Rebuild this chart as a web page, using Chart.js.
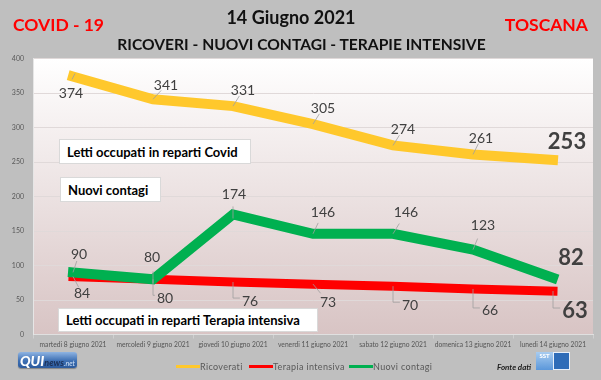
<!DOCTYPE html>
<html>
<head>
<meta charset="utf-8">
<script src="https://cdn.jsdelivr.net/npm/chart.js@4.4.1/dist/chart.umd.min.js"></script>
<style>
  html,body{margin:0;padding:0;background:#bfbfbf;}
  #wrap{position:relative;width:601px;height:380px;overflow:hidden;font-family:Lato,"Noto Sans",sans-serif;}
  canvas{position:absolute;left:0;top:0;}
  .t{position:absolute;white-space:nowrap;font-weight:bold;line-height:1;}
  .box{position:absolute;background:#fff;border:1px solid #d9d9d9;box-sizing:border-box;font-weight:bold;font-size:13px;color:#000;white-space:nowrap;display:flex;align-items:center;padding-left:7px;}
  #legend{position:absolute;left:176px;top:361px;height:10px;display:flex;align-items:center;font-size:9px;letter-spacing:0.35px;color:#595959;white-space:nowrap;}
  #legend .it{display:flex;align-items:center;flex:none;white-space:nowrap;}
  #legend .sw{width:24px;height:3px;flex:none;}
</style>
</head>
<body>
<div id="wrap">
  <canvas id="c" width="601" height="380"></canvas>
  <div class="t" style="left:0;width:582px;text-align:center;top:8px;font-size:18px;color:#111;">14 Giugno 2021</div>
  <div class="t" style="left:0;width:603px;text-align:center;top:37px;font-size:15.6px;color:#111;">RICOVERI - NUOVI CONTAGI - TERAPIE INTENSIVE</div>
  <div class="t" style="left:13px;top:16px;font-size:17.5px;color:#ff0000;">COVID - 19</div>
  <div class="t" style="right:13px;top:16px;font-size:17.5px;color:#ff0000;">TOSCANA</div>
  <div class="box" style="left:59px;top:139px;width:192px;height:25px;">Letti occupati in reparti Covid</div>
  <div class="box" style="left:60px;top:177px;width:101px;height:25px;">Nuovi contagi</div>
  <div class="box" style="left:58px;top:308px;width:260px;height:24px;">Letti occupati in reparti Terapia intensiva</div>
  <div id="legend"></div>
  <div style="position:absolute;left:18px;top:352px;width:59px;height:16px;border-radius:3px;background:linear-gradient(#8fb4e2,#3d6fb3 55%,#2c5a9c);box-shadow:0 1px 1px rgba(0,0,0,0.3);font-style:italic;white-space:nowrap;line-height:16px;">
    <span style="color:#fff;font-weight:900;font-size:14px;margin-left:2px;">QUI</span><span style="color:#1b2f55;font-weight:bold;font-size:9px;">news</span><span style="color:#cfe0f5;font-size:7px;">.net</span>
  </div>
  <div class="t" style="left:497px;top:363px;font-size:8px;font-style:italic;color:#222;">Fonte dati</div>
  <div style="position:absolute;left:536px;top:352px;width:17px;height:18px;background:linear-gradient(#a8ccf0,#5b97da);color:#fff;font-size:6px;font-weight:900;text-align:center;line-height:8px;">SST</div>
  <div style="position:absolute;left:553px;top:352px;width:17px;height:18px;background:#2e6cb8;border:1px solid #e8f0fa;box-sizing:border-box;"></div>
</div>
<script>
// ---- data ----
const categories = ['martedi 8 giugno 2021','mercoledi 9 giugno 2021','giovedi 10 giugno 2021','venerdi 11 giugno 2021','sabato 12 giugno 2021','domenica 13 giugno 2021','lunedi 14 giugno 2021'];
const ricoverati = [374, 341, 331, 305, 274, 261, 253];
const terapiaIntensiva = [84, 80, 76, 73, 70, 66, 63];
const nuoviContagi = [90, 80, 174, 146, 146, 123, 82];
const seriesNames = ['Ricoverati', 'Terapia intensiva', 'Nuovi contagi'];
const yMin = 0, yMax = 400, yStep = 50;

// ---- styles ----
const colors = ['#ffc82c', '#ff0000', '#00b050'];
const legendWidths = [73, 100, 90];
const labelOffsets = [
  [[-2,17],[13,-14],[10,-16],[10,-16],[10,-16],[8,-16],[14,-18]],
  [[9,17],[12,19],[17,19],[15,18],[17,19],[17,22],[22,20]],
  [[6,-18],[-1,-22],[1,-20],[10,-21],[13,-21],[10,-24],[18,-20]]
];
const leaderTypes = [
  ['u','d','d','d','d','d','n'],
  ['d','e','e','d','e','e','e'],
  ['d','v','v','d','d','d','n']
];

const labelPlugin = {
  id: 'pointLabels',
  afterDatasetsDraw(chart) {
    const ctx = chart.ctx;
    ctx.save();
    chart.data.datasets.forEach((ds, di) => {
      const meta = chart.getDatasetMeta(di);
      meta.data.forEach((pt, i) => {
        const [dx, dy] = labelOffsets[di][i];
        const last = i === ds.data.length - 1;
        const lx = pt.x + dx, ly = pt.y + dy;
        ctx.font = (last ? 'bold 22px ' : '14px ') + 'Lato';
        const w = ctx.measureText(String(ds.data[i])).width;
        ctx.strokeStyle = '#a0a0a0';
        ctx.lineWidth = 0.8;
        const lt = leaderTypes[di][i];
        ctx.beginPath();
        if (lt === 'd') {
          const ang = Math.atan2(dy, dx);
          ctx.moveTo(pt.x, pt.y);
          ctx.lineTo(pt.x + Math.cos(ang) * 12, pt.y + Math.sin(ang) * 12);
        } else if (lt === 'u') {
          ctx.moveTo(pt.x - 1, pt.y + 3);
          ctx.lineTo(pt.x + 2, pt.y - 3);
        } else if (lt === 'e') {
          const ey = ly - 3;
          ctx.moveTo(pt.x, pt.y);
          ctx.lineTo(pt.x, ey);
          ctx.lineTo(lx - w / 2 - 2, ey);
        } else if (lt === 'v') {
          ctx.moveTo(pt.x, pt.y + 4);
          ctx.lineTo(pt.x, pt.y - 8);
        }
        ctx.stroke();
        ctx.fillStyle = '#404040';
        ctx.textAlign = 'center';
        ctx.textBaseline = 'middle';
        ctx.fillText(String(ds.data[i]), lx, ly);
      });
    });
    ctx.restore();
  }
};

const bgPlugin = {
  id: 'plotBg',
  beforeDraw(chart) {
    const {ctx, chartArea: a} = chart;
    const g = ctx.createLinearGradient(0, a.top, 0, a.bottom);
    g.addColorStop(0, '#ffffff');
    g.addColorStop(1, '#d8c4c4');
    ctx.save();
    ctx.fillStyle = g;
    ctx.fillRect(a.left, a.top, a.right - a.left, a.bottom - a.top);
    ctx.restore();
  }
};

const mk = (label, data, color, order, width) => ({
  label, data, borderColor: color, backgroundColor: color,
  borderWidth: width, pointRadius: 0, tension: 0, fill: false,
  borderCapStyle: 'square', borderJoinStyle: 'miter', order
});

const chart = new Chart(document.getElementById('c'), {
  type: 'line',
  data: {
    labels: categories,
    datasets: [
      mk(seriesNames[0], ricoverati, colors[0], 2, 10),
      mk(seriesNames[1], terapiaIntensiva, colors[1], 1, 9),
      mk(seriesNames[2], nuoviContagi, colors[2], 0, 10)
    ]
  },
  options: {
    responsive: false,
    animation: false,
    devicePixelRatio: 1,
    layout: { padding: { top: 58.5, right: 8, left: 0, bottom: 0 } },
    plugins: { legend: { display: false }, tooltip: { enabled: false } },
    scales: {
      x: {
        offset: true,
        grid: { offset: true, drawOnChartArea: false, drawTicks: true, tickLength: 4, color: '#d0d0d0' },
        border: { color: '#e0e0e0' },
        ticks: { autoSkip: false, maxRotation: 0, minRotation: 0, padding: 2, color: '#555555', font: { family: 'Lato', size: 6.7 } },
        afterFit(s) { s.height = 45.5; }
      },
      y: {
        min: yMin, max: yMax,
        ticks: { stepSize: yStep, padding: 9, color: '#595959', font: { family: 'Lato', size: 7 } },
        grid: { drawTicks: false, color: '#e0d9d9' },
        border: { color: '#e6e6e6' },
        afterFit(s) { s.width = 33; }
      }
    }
  },
  plugins: [bgPlugin, labelPlugin]
});

// legend from series
const lg = document.getElementById('legend');
seriesNames.forEach((n, i) => {
  const it = document.createElement('div');
  it.className = 'it';
  it.style.width = legendWidths[i] + 'px';
  it.innerHTML = '<div class="sw" style="background:' + colors[i] + '"></div><span>' + n + '</span>';
  lg.appendChild(it);
});
</script>
</body>
</html>
